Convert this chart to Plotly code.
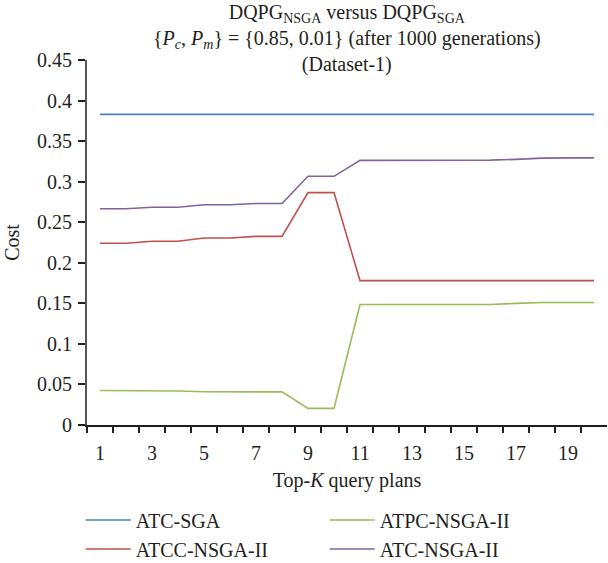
import plotly.graph_objects as go

# Top-K query plan index
plans = list(range(1, 21))

# Cost of each plan for the four strategies
atc_sga = [0.383] * 20
atpc_nsga2 = [0.0425, 0.0425, 0.042, 0.042, 0.041, 0.041, 0.0408, 0.0408, 0.0205, 0.0205,
              0.1485, 0.1485, 0.1485, 0.1485, 0.1485, 0.1485, 0.15, 0.151, 0.151, 0.151]
atcc_nsga2 = [0.224, 0.224, 0.2265, 0.2265, 0.2305, 0.2305, 0.2325, 0.2325, 0.2865, 0.2865,
              0.178, 0.178, 0.178, 0.178, 0.178, 0.178, 0.178, 0.178, 0.178, 0.178]
atc_nsga2 = [0.2667, 0.2667, 0.2685, 0.2685, 0.2715, 0.2715, 0.273, 0.273, 0.3066, 0.3066,
             0.3262, 0.3262, 0.3262, 0.3262, 0.3262, 0.3265, 0.3275, 0.329, 0.3293, 0.3293]

series = [
    ("ATC-SGA", atc_sga, "#4F81BD"),
    ("ATPC-NSGA-II", atpc_nsga2, "#9BBB59"),
    ("ATCC-NSGA-II", atcc_nsga2, "#C0504D"),
    ("ATC-NSGA-II", atc_nsga2, "#8064A2"),
]

x_labels = [1, 3, 5, 7, 9, 11, 13, 15, 17, 19]
y_ticks = [0, 0.05, 0.1, 0.15, 0.2, 0.25, 0.3, 0.35, 0.4, 0.45]

FONT = "Liberation Serif"
INK = "#231f20"

fig = go.Figure()
for name, vals, color in series:
    fig.add_trace(go.Scatter(x=plans, y=vals, mode="lines", name=name,
                             line=dict(color=color, width=1.6)))

fig.update_layout(
    width=608, height=563,
    margin=dict(l=87, r=1, t=60, b=138, autoexpand=False),
    paper_bgcolor="white", plot_bgcolor="white",
    font=dict(family=FONT, size=20, color=INK),
    xaxis=dict(
        range=[0.5, 20.5], automargin=False,
        tickmode="array", tickvals=x_labels, ticktext=[str(v) for v in x_labels],
        ticks="", showgrid=False, zeroline=False,
        showline=True, linecolor=INK, linewidth=1.5,
        ticklabelstandoff=9,
        minor=dict(tickvals=[k + 0.5 for k in range(0, 20)], ticks="outside",
                   ticklen=6, tickwidth=1.5, tickcolor=INK, showgrid=False),
        title=dict(text="Top-<i>K</i> query plans", standoff=10,
                   font=dict(family=FONT, size=20)),
    ),
    yaxis=dict(
        range=[0, 0.45], automargin=False,
        tickmode="array", tickvals=y_ticks, ticktext=[f"{v:g}" for v in y_ticks],
        ticks="outside", ticklen=7, tickwidth=1.5, tickcolor=INK,
        showgrid=False, zeroline=False,
        showline=True, linecolor="#555555", linewidth=2,
        ticklabelstandoff=2,
        title=dict(text="Cost", standoff=12, font=dict(family=FONT, size=20)),
    ),
    legend=dict(
        orientation="h", x=-0.012, xanchor="left", y=-0.207, yanchor="top",
        entrywidth=184, entrywidthmode="pixels", itemwidth=45,
        font=dict(family=FONT, size=20), tracegroupgap=0,
        bgcolor="rgba(0,0,0,0)",
    ),
    showlegend=True,
)

# Three-line heading above the plot area
fig.add_annotation(
    text="DQPG<sub>NSGA</sub> versus DQPG<sub>SGA</sub><br>"
         "{<i>P</i><sub><i>c</i></sub>, <i>P</i><sub><i>m</i></sub>} = {0.85, 0.01} "
         "(after 1000 generations)<br>(Dataset-1)",
    xref="paper", yref="paper", x=0.5, y=1, xanchor="center", yanchor="top",
    yshift=61, showarrow=False, align="center",
    font=dict(family=FONT, size=20, color=INK),
)

fig.write_html("out.html")
